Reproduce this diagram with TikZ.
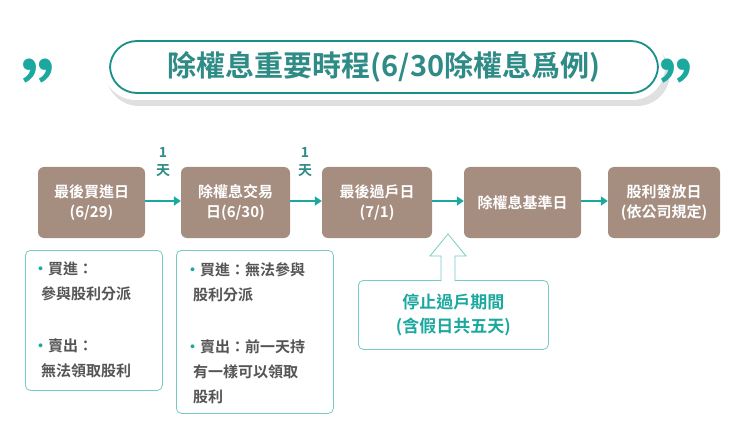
\documentclass[tikz,border=0pt]{standalone}
\usepackage{fontspec}
\usetikzlibrary{arrows.meta}
\setmainfont{Noto Sans CJK TC}[BoldFont={* Bold}]
\definecolor{teal}{HTML}{1BA99F}
\definecolor{brn}{HTML}{A58D80}
\definecolor{txt}{HTML}{555555}
\definecolor{ttl}{HTML}{2E8B86}
\begin{document}
\begin{tikzpicture}[x=1pt,y=-1pt,
 stepbox/.style={fill=brn,rounded corners=6pt,text=white,font=\bfseries\fontsize{15}{20}\selectfont,align=center,minimum height=71pt,inner sep=0pt},
 note/.style={draw=teal!60,rounded corners=5pt,line width=0.8pt,fill=white},
 arr/.style={teal,line width=2.5pt,-{Triangle[length=7pt,width=9pt]}},
 lbl/.style={font=\bfseries\fontsize{14}{18}\selectfont,text=ttl},
 ntx/.style={font=\bfseries\fontsize{15}{25}\selectfont,text=txt,align=left,anchor=north west,inner sep=0pt}]
\useasboundingbox (0,0) rectangle (750,433);
% title
\fill[black!12,rounded corners=33pt] (106,42) rectangle (670,106);
\node[fill=white,rounded corners=33pt,minimum width=562pt,minimum height=66pt] (tb) at (384,67) {};
\node[draw=teal!85!black,line width=1.8pt,rounded corners=27pt,minimum width=548pt,minimum height=52pt,
 font=\bfseries\fontsize{29}{32}\selectfont,text=ttl] (title) at (384,67) {除權息重要時程(6/30除權息爲例)};
\node[text=teal,font=\bfseries\fontsize{78}{78}\selectfont] (q1) at (60,92) {”};
\node[text=teal,font=\bfseries\fontsize{78}{78}\selectfont] (q2) at (698,92) {”};
% steps
\node[stepbox,minimum width=107pt] (s1) at (91.5,202.5) {最後買進日\\(6/29)};
\node[stepbox,minimum width=109pt] (s2) at (235.5,202.5) {除權息交易\\日(6/30)};
\node[stepbox,minimum width=110pt] (s3) at (377,202.5) {最後過戶日\\(7/1)};
\node[stepbox,minimum width=117pt] (s4) at (522.5,202.5) {除權息基準日};
\node[stepbox,minimum width=112pt] (s5) at (664,202.5) {股利發放日\\(依公司規定)};
\draw[arr] (s1.east|-0,201) -- (s2.west|-0,201);
\draw[arr] (s2.east|-0,201) -- (s3.west|-0,201);
\draw[arr] (s3.east|-0,201) -- (s4.west|-0,201);
\draw[arr] (s4.east|-0,201) -- (s5.west|-0,201);
\node[lbl,align=center] (d1) at (163,162) {1\\天};
\node[lbl,align=center] (d2) at (305,162) {1\\天};
% notes
\node[note,minimum width=137pt,minimum height=140pt,anchor=north west] (n1) at (25,250) {};
\node[note,minimum width=157pt,minimum height=163pt,anchor=north west] (n2) at (176,250) {};
\node[ntx] (t1) at (33,262) {\textcolor{teal}{•}買進：\\\hspace{8pt}參與股利分派\\[27pt]\textcolor{teal}{•}賣出：\\\hspace{8pt}無法領取股利};
\node[ntx] (t2) at (185,262) {\textcolor{teal}{•}買進：無法參與\\\hspace{8pt}股利分派\\[27pt]\textcolor{teal}{•}賣出：前一天持\\\hspace{8pt}有一樣可以領取\\\hspace{8pt}股利};
% callout
\node[note,minimum width=190pt,minimum height=69pt,anchor=north west,font=\bfseries\fontsize{17}{24}\selectfont,text=teal,align=center] (c) at (358,280) {停止過戶期間\\(含假日共五天)};
\coordinate (tip) at (448,234);
\draw[teal!60,line width=0.8pt,fill=white] (441,281) -- (441,256) -- (430,256) -- (tip) -- (466,256) -- (455,256) -- (455,281);
\end{tikzpicture}
\end{document}
